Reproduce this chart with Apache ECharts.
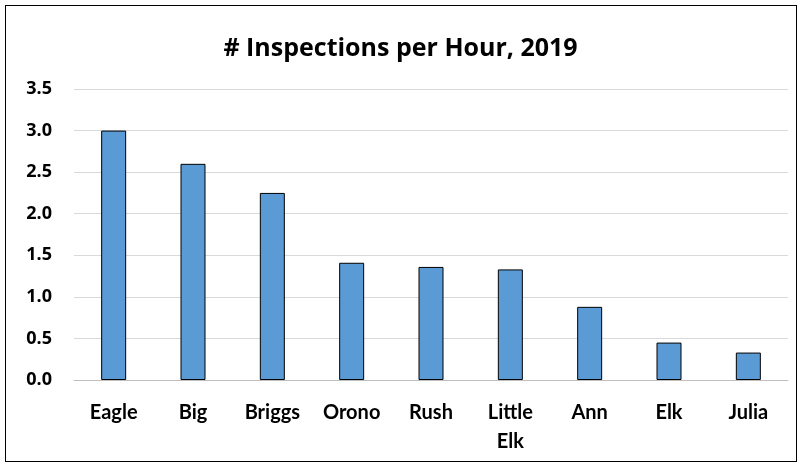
<!DOCTYPE html>
<html>
<head>
<meta charset="utf-8">
<script src="https://cdn.jsdelivr.net/npm/echarts@6/dist/echarts.min.js"></script>
<style>
  html, body { margin: 0; padding: 0; background: #fff; }
  #frame { position: absolute; left: 5px; top: 5px; width: 790px; height: 455px; border: 1px solid #000; box-sizing: content-box; }
  #main { position: absolute; left: 0; top: 0; width: 801px; height: 464px; }
</style>
</head>
<body>
<div id="frame"></div>
<div id="main"></div>
<script>
var categories = ['Eagle', 'Big', 'Briggs', 'Orono', 'Rush', 'Little Elk', 'Ann', 'Elk', 'Julia'];
var inspectionsPerHour = [3.0, 2.6, 2.25, 1.41, 1.36, 1.33, 0.88, 0.45, 0.33];

var myChart = echarts.init(document.getElementById('main'));

var option = {
    animation: false,
    title: {
        text: '# Inspections per Hour, 2019',
        left: 'center',
        top: 31,
        textStyle: {
            fontFamily: 'Open Sans',
            fontWeight: 'bold',
            fontSize: 25,
            color: '#000'
        }
    },
    grid: {
        left: 74,
        right: 13,
        top: 89,
        bottom: 84
    },
    xAxis: {
        type: 'category',
        data: categories,
        axisTick: { show: false },
        axisLine: { lineStyle: { color: '#bfbfbf', width: 1 } },
        axisLabel: {
            interval: 0,
            margin: 18,
            color: '#000',
            fontFamily: 'Lato',
            fontWeight: 'bold',
            fontSize: 20,
            lineHeight: 29,
            formatter: function (v) { return v.replace(' ', '\n'); }
        }
    },
    yAxis: {
        type: 'value',
        min: 0,
        max: 3.5,
        interval: 0.5,
        axisLine: { show: false },
        axisTick: { show: false },
        splitLine: { lineStyle: { color: '#d9d9d9', width: 1 } },
        axisLabel: {
            margin: 22,
            color: '#000',
            fontFamily: 'Open Sans',
            fontWeight: 'bold',
            fontSize: 18,
            formatter: function (v) { return v.toFixed(1); }
        }
    },
    series: [{
        name: '# Inspections per Hour',
        type: 'bar',
        data: inspectionsPerHour,
        barWidth: 25,
        itemStyle: {
            color: '#5b9bd5',
            borderColor: '#000',
            borderWidth: 1
        }
    }]
};

myChart.setOption(option);
</script>
</body>
</html>
